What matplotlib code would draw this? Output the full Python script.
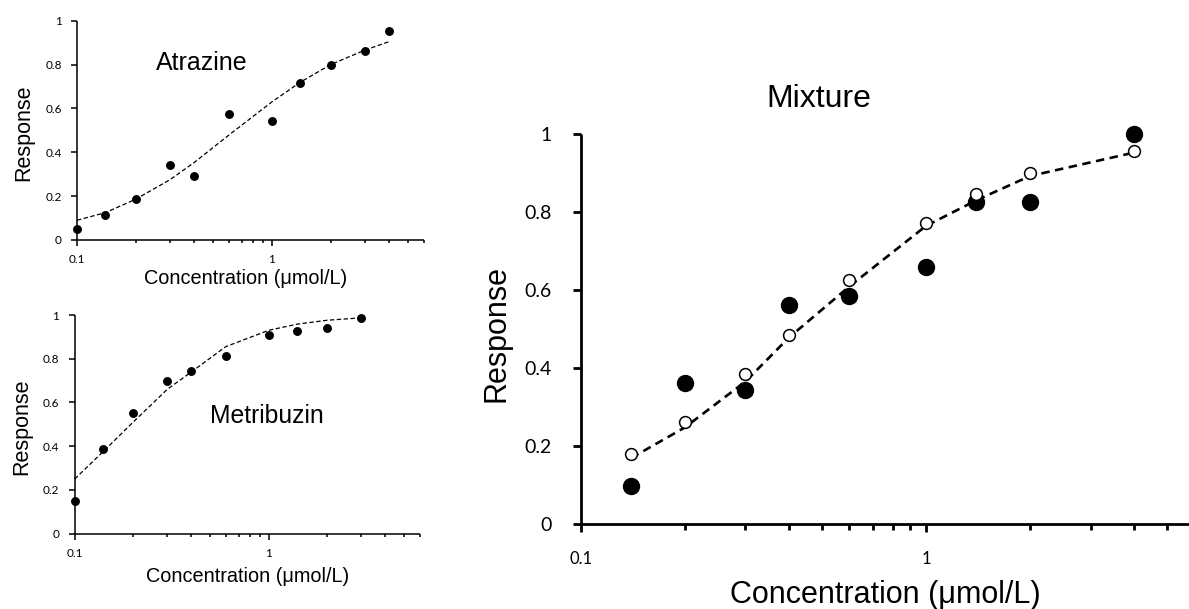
import matplotlib
matplotlib.use("Agg")
import matplotlib.pyplot as plt
from matplotlib.ticker import LogLocator, FixedLocator, FixedFormatter, NullFormatter

W, H = 1189, 609

# ---------------- data ----------------
atr_x = [0.1, 0.14, 0.2, 0.3, 0.4, 0.6, 1, 1.4, 2, 3, 4]
atr_obs = [0.05, 0.114, 0.185, 0.34, 0.29, 0.574, 0.544, 0.717, 0.80, 0.862, 0.953]
atr_fit = [0.09, 0.125, 0.186, 0.275, 0.354, 0.478, 0.63, 0.72, 0.80, 0.866, 0.905]

met_x = [0.1, 0.14, 0.2, 0.3, 0.4, 0.6, 1, 1.4, 2, 3]
met_obs = [0.149, 0.389, 0.550, 0.697, 0.742, 0.811, 0.91, 0.925, 0.939, 0.986]
met_fit = [0.25, 0.375, 0.51, 0.66, 0.74, 0.855, 0.93, 0.958, 0.976, 0.987]

mix_x = [0.14, 0.2, 0.3, 0.4, 0.6, 1, 1.4, 2, 4]
mix_obs = [0.097, 0.362, 0.344, 0.562, 0.585, 0.661, 0.826, 0.826, 1.0]
mix_pred = [0.179, 0.263, 0.385, 0.485, 0.626, 0.773, 0.846, 0.902, 0.958]
mix_fit = [0.17, 0.248, 0.366, 0.478, 0.61, 0.765, 0.831, 0.893, 0.953]

y_ticks = [0, 0.2, 0.4, 0.6, 0.8, 1]
y_ticklabels = ["0", "0.2", "0.4", "0.6", "0.8", "1"]
x_ticks = [0.1, 1]
x_ticklabels = ["0.1", "1"]
x_label = "Concentration (\u03bcmol/L)"
y_label = "Response"

LABEL_FONT = "Liberation Sans"
TICK_FONT = "Lato"

fig = plt.figure(figsize=(W / 100, H / 100), dpi=100)
fig.patch.set_facecolor("white")


def add_ax(left, right, top, bottom):
    return fig.add_axes([left / W, 1 - bottom / H, (right - left) / W, (bottom - top) / H])


def fx(px):
    return px / W


def fy(py):
    return 1 - py / H


def style_axis(ax, spine_w, maj_len, min_len, tick_fs_y, tick_fs_x, ypad, xpad):
    ax.set_xscale("log")
    ax.set_xlim(0.1, 6)
    ax.set_ylim(0, 1)
    for s in ["top", "right"]:
        ax.spines[s].set_visible(False)
    for s in ["left", "bottom"]:
        ax.spines[s].set_linewidth(spine_w)
        ax.spines[s].set_color("black")
        ax.spines[s].set_capstyle("butt")
    ax.yaxis.set_major_locator(FixedLocator(y_ticks))
    ax.yaxis.set_major_formatter(FixedFormatter(y_ticklabels))
    ax.xaxis.set_major_locator(FixedLocator(x_ticks))
    ax.xaxis.set_major_formatter(FixedFormatter(x_ticklabels))
    ax.xaxis.set_minor_locator(LogLocator(base=10, subs=[2, 3, 4, 5, 6, 7, 8, 9]))
    ax.xaxis.set_minor_formatter(NullFormatter())
    ax.tick_params(axis="y", which="major", direction="out", length=maj_len, width=spine_w,
                   pad=ypad, labelsize=tick_fs_y)
    ax.tick_params(axis="x", which="major", direction="out", length=maj_len, width=spine_w,
                   pad=xpad, labelsize=tick_fs_x)
    ax.tick_params(axis="x", which="minor", direction="out", length=min_len, width=spine_w)
    for lab in ax.get_xticklabels() + ax.get_yticklabels():
        lab.set_fontfamily(TICK_FONT)
    ax.set_facecolor("none")


# ---------------- Atrazine ----------------
ax1 = add_ax(77, 423.7, 20.7, 240)
style_axis(ax1, 1.1, 4, 2.5, 8.5, 8.5, 7, 6)
ax1.plot(atr_x, atr_fit, color="black", lw=0.9, dashes=(3.5, 2), zorder=2, clip_on=False)
ax1.plot(atr_x, atr_obs, "o", color="black", ms=5.4, zorder=3, clip_on=False)

# ---------------- Metribuzin ----------------
ax2 = add_ax(74.7, 419.6, 315, 533.7)
style_axis(ax2, 1.1, 4, 2.5, 8.5, 8.5, 7, 6)
ax2.plot(met_x, met_fit, color="black", lw=0.9, dashes=(3.5, 2), zorder=2, clip_on=False)
ax2.plot(met_x, met_obs, "o", color="black", ms=5.4, zorder=3, clip_on=False)

# ---------------- Mixture ----------------
ax3 = add_ax(580.7, 1194.7, 134.3, 524.3)
style_axis(ax3, 2.0, 6, 4.5, 14, 12, 15, 13)
ax3.plot(mix_x, mix_obs, "o", color="black", ms=11.5, zorder=2, clip_on=False)
ax3.plot(mix_x, mix_fit, color="black", lw=1.9, dashes=(3.2, 2.1), zorder=3, clip_on=False)
ax3.plot(mix_x, mix_pred, "o", mfc="white", mec="black", mew=1.1, ms=8.5, zorder=4, clip_on=False)

# ---------------- texts ----------------
fig.text(fx(201.5), fy(70), "Atrazine", family=LABEL_FONT, fontsize=18, ha="center", va="baseline")
fig.text(fx(267), fy(422.7), "Metribuzin", family=LABEL_FONT, fontsize=17.8, ha="center", va="baseline")
fig.text(fx(819), fy(107.3), "Mixture", family=LABEL_FONT, fontsize=23, ha="center", va="baseline")

fig.text(fx(246), fy(284), x_label, family=LABEL_FONT, fontsize=14.3, ha="center", va="baseline")
fig.text(fx(247.5), fy(582), x_label, family=LABEL_FONT, fontsize=14.3, ha="center", va="baseline")
fig.text(fx(885.5), fy(603.3), x_label, family=LABEL_FONT, fontsize=22, ha="center", va="baseline")

fig.text(fx(23.5), fy(133), y_label, family=LABEL_FONT, fontsize=15.5, rotation=90, ha="center", va="center")
fig.text(fx(22), fy(426.7), y_label, family=LABEL_FONT, fontsize=15.5, rotation=90, ha="center", va="center")
fig.text(fx(496.5), fy(333), y_label, family=LABEL_FONT, fontsize=22, rotation=90, ha="center", va="center")

fig.savefig("out.png", dpi=100, facecolor="white")
